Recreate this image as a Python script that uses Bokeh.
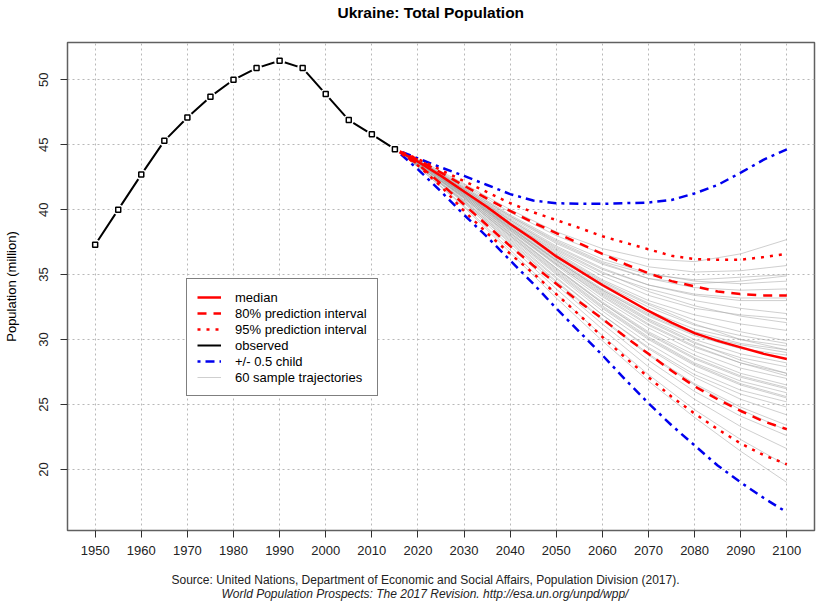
from bokeh.plotting import figure
from bokeh.models import Range1d, Legend, LegendItem, FixedTicker, Title
from bokeh.embed import file_html
from bokeh.resources import INLINE

# ---------------- data ----------------
obs_years = [1950, 1955, 1960, 1965, 1970, 1975, 1980, 1985, 1990, 1995, 2000, 2005, 2010, 2015]
obs_pop = [37.3, 40.0, 42.7, 45.3, 47.1, 48.7, 50.0, 50.9, 51.46, 50.9, 48.9, 46.9, 45.8, 44.66]

proj_years = [2015, 2020, 2025, 2030, 2035, 2040, 2045, 2050, 2055, 2060,
              2065, 2070, 2075, 2080, 2085, 2090, 2095, 2100]
median = [44.66, 43.7, 42.6, 41.4, 40.2, 38.9, 37.7, 36.4, 35.3, 34.2,
          33.2, 32.2, 31.3, 30.5, 29.9, 29.4, 28.9, 28.5]
pi80_low = [44.66, 43.5, 42.0, 40.4, 38.8, 37.2, 35.7, 34.3, 32.9, 31.6,
            30.2, 28.9, 27.6, 26.4, 25.4, 24.5, 23.7, 23.1]
pi80_high = [44.66, 43.85, 42.85, 41.85, 40.85, 39.9, 39.0, 38.2, 37.4, 36.6,
             35.8, 35.1, 34.5, 34.1, 33.7, 33.5, 33.4, 33.4]
pi95_low = [44.66, 43.4, 41.8, 39.9, 38.2, 36.6, 35.1, 33.5, 31.9, 30.2,
            28.6, 27.1, 25.6, 24.3, 23.1, 22.0, 21.1, 20.4]
pi95_high = [44.66, 43.9, 43.05, 42.2, 41.35, 40.5, 39.8, 39.2, 38.6, 37.95,
             37.45, 36.95, 36.45, 36.2, 36.15, 36.15, 36.35, 36.6]
child_low = [44.66, 43.1, 41.4, 39.6, 37.9, 36.1, 34.3, 32.4, 30.6, 28.8,
             26.9, 25.1, 23.4, 21.85, 20.3, 19.0, 17.8, 16.7]
child_high = [44.66, 43.95, 43.25, 42.6, 41.9, 41.2, 40.7, 40.5, 40.45, 40.45,
              40.5, 40.55, 40.75, 41.25, 41.9, 42.85, 43.85, 44.65]

traj_years = [2015, 2020, 2030, 2040, 2050, 2060, 2070, 2080, 2090, 2100]
trajectories = [
    [44.66, 43.9, 42.0, 40.0, 38.3, 37.0, 36.2, 36.0, 36.6, 37.7],
    [44.66, 43.8, 41.9, 39.8, 38.0, 36.6, 35.6, 35.2, 35.3, 35.7],
    [44.66, 43.8, 41.7, 39.5, 37.6, 36.0, 35.0, 34.6, 34.8, 35.0],
    [44.66, 43.7, 41.6, 39.4, 37.4, 35.8, 34.7, 34.3, 34.5, 34.9],
    [44.66, 43.8, 41.6, 39.2, 37.1, 35.4, 34.2, 33.5, 33.2, 33.2],
    [44.66, 43.7, 41.5, 39.1, 36.9, 35.1, 33.9, 33.0, 32.4, 32.0],
    [44.66, 43.7, 41.5, 39.0, 36.8, 34.9, 33.4, 32.4, 31.9, 31.6],
    [44.66, 43.7, 41.4, 39.0, 36.7, 34.6, 33.0, 31.9, 31.2, 30.7],
    [44.66, 43.7, 41.4, 38.9, 36.6, 34.5, 32.8, 31.5, 30.6, 29.9],
    [44.66, 43.6, 41.3, 38.8, 36.4, 34.3, 32.5, 31.1, 30.3, 29.7],
    [44.66, 43.7, 41.4, 38.8, 36.3, 34.1, 32.2, 30.8, 30.0, 29.5],
    [44.66, 43.6, 41.3, 38.7, 36.2, 33.9, 32.0, 30.6, 29.7, 29.2],
    [44.66, 43.6, 41.2, 38.6, 36.1, 33.8, 31.8, 30.3, 29.3, 28.8],
    [44.66, 43.7, 41.3, 38.7, 36.1, 33.7, 31.6, 30.0, 28.9, 28.2],
    [44.66, 43.6, 41.2, 38.5, 35.9, 33.5, 31.4, 29.7, 28.6, 27.9],
    [44.66, 43.6, 41.1, 38.4, 35.8, 33.3, 31.1, 29.4, 28.2, 27.4],
    [44.66, 43.6, 41.1, 38.4, 35.7, 33.1, 30.9, 29.1, 27.8, 27.0],
    [44.66, 43.5, 41.0, 38.2, 35.5, 32.9, 30.6, 28.8, 27.4, 26.5],
    [44.66, 43.6, 41.1, 38.3, 35.5, 32.8, 30.4, 28.5, 27.1, 26.2],
    [44.66, 43.5, 41.0, 38.1, 35.3, 32.6, 30.2, 28.2, 26.8, 25.9],
    [44.66, 43.5, 40.9, 38.0, 35.1, 32.4, 30.0, 28.0, 26.5, 25.5],
    [44.66, 43.5, 40.9, 37.9, 35.0, 32.2, 29.7, 27.6, 26.1, 25.2],
    [44.66, 43.5, 40.8, 37.8, 34.8, 31.9, 29.3, 27.1, 25.4, 24.2],
    [44.66, 43.4, 40.7, 37.6, 34.5, 31.6, 28.9, 26.6, 24.8, 23.4],
    [44.66, 43.4, 40.6, 37.4, 34.2, 31.2, 28.4, 26.0, 24.1, 22.6],
    [44.66, 43.4, 40.5, 37.2, 33.9, 30.8, 27.9, 25.4, 23.3, 21.6],
    [44.66, 43.3, 40.3, 36.9, 33.5, 30.3, 27.3, 24.6, 22.3, 20.3],
    [44.66, 43.3, 40.2, 36.7, 33.2, 29.9, 26.8, 24.0, 21.4, 19.0],
    [44.66, 43.8, 41.8, 39.6, 37.7, 36.2, 35.1, 34.5, 34.3, 34.5],
    [44.66, 43.7, 41.6, 39.3, 37.2, 35.5, 34.2, 33.4, 33.0, 33.0],
    [44.66, 43.7, 41.5, 39.2, 37.0, 35.2, 33.7, 32.6, 31.8, 31.3],
    [44.66, 43.7, 41.4, 38.9, 36.5, 34.4, 32.7, 31.2, 30.0, 29.2],
    [44.66, 43.6, 41.3, 38.6, 36.0, 33.6, 31.5, 29.8, 28.4, 27.4],
    [44.66, 43.6, 41.2, 38.5, 35.8, 33.4, 31.2, 29.5, 28.2, 27.2],
    [44.66, 43.5, 41.0, 38.2, 35.4, 32.8, 30.5, 28.6, 27.2, 26.3],
    [44.66, 43.5, 40.9, 38.0, 35.2, 32.5, 30.1, 28.1, 26.6, 25.6],
    [44.66, 43.4, 40.7, 37.7, 34.7, 31.9, 29.4, 27.3, 25.8, 24.8],
    [44.66, 43.4, 40.6, 37.5, 34.4, 31.5, 28.8, 26.5, 24.6, 23.0],
    [44.66, 43.8, 41.7, 39.5, 37.5, 35.9, 34.7, 34.0, 33.8, 33.9],
    [44.66, 43.6, 41.2, 38.6, 36.1, 33.8, 31.9, 30.4, 29.6, 29.0],
]

x_ticks = [1950, 1960, 1970, 1980, 1990, 2000, 2010, 2020, 2030, 2040,
           2050, 2060, 2070, 2080, 2090, 2100]
y_ticks = [20, 25, 30, 35, 40, 45, 50]

title_text = "Ukraine: Total Population"
y_label = "Population (million)"
source_1 = "Source: United Nations, Department of Economic and Social Affairs, Population Division (2017)."
source_2 = "World Population Prospects: The 2017 Revision. http://esa.un.org/unpd/wpp/"
legend_labels = ["median", "80% prediction interval", "95% prediction interval",
                 "observed", "+/- 0.5 child", "60 sample trajectories"]

FONT = "Liberation Sans"

# ---------------- figure ----------------
p = figure(width=820, height=608, output_backend="svg", toolbar_location=None,
           x_range=Range1d(1944, 2106), y_range=Range1d(15.3, 52.87),
           min_border_left=67, min_border_right=6, min_border_top=42,
           min_border_bottom=78)
p.background_fill_color = "white"
p.border_fill_color = "white"
p.outline_line_color = "#606060"
p.outline_line_width = 1.5

for ax in (p.xaxis[0], p.yaxis[0]):
    ax.axis_line_color = None
    ax.major_tick_line_color = "#303030"
    ax.major_tick_line_width = 1
    ax.major_tick_out = 7
    ax.major_tick_in = 0
    ax.minor_tick_line_color = None
    ax.major_label_text_font = FONT
    ax.major_label_text_font_size = "13px"
    ax.major_label_text_color = "#222222"

p.xaxis.ticker = FixedTicker(ticks=x_ticks)
p.yaxis.ticker = FixedTicker(ticks=y_ticks)
p.xaxis.major_label_standoff = 8
p.yaxis.major_label_standoff = 12
p.yaxis.major_label_orientation = "vertical"
p.yaxis.axis_label = y_label
p.yaxis.axis_label_text_font = FONT
p.yaxis.axis_label_text_font_size = "13px"
p.yaxis.axis_label_text_font_style = "normal"
p.yaxis.axis_label_text_color = "black"
p.yaxis.axis_label_standoff = 18

for g in (p.xgrid[0], p.ygrid[0]):
    g.grid_line_color = "#b8b8b8"
    g.grid_line_dash = "2 3"
    g.grid_line_width = 1
p.xgrid.ticker = FixedTicker(ticks=x_ticks)
p.ygrid.ticker = FixedTicker(ticks=y_ticks)

# ---- title (spacer next to the frame, then the title) ----
p.add_layout(Title(text=" ", text_font=FONT, text_font_size="12px", standoff=6), "above")
p.add_layout(Title(text=title_text, align="left", offset=270, vertical_align="bottom",
                   standoff=0, text_font=FONT, text_font_size="15.5px",
                   text_font_style="bold", text_color="black"), "above")

# ---- source lines below (spacer after the axis, then two lines) ----
p.add_layout(Title(text=" ", text_font=FONT, text_font_size="2px", standoff=9), "below")
p.add_layout(Title(text=source_1, align="left", offset=104, vertical_align="bottom",
                   standoff=0, text_font=FONT, text_font_size="12px",
                   text_font_style="normal", text_color="#222222"), "below")
p.add_layout(Title(text=source_2, align="left", offset=154, vertical_align="top",
                   standoff=0, text_font=FONT, text_font_size="12px",
                   text_font_style="italic", text_color="#222222"), "below")

# ---------------- glyphs ----------------
r_traj = p.multi_line([traj_years] * len(trajectories), trajectories,
                      line_color="#a8a8a8", line_alpha=0.55, line_width=1)

RED = "#ff0000"
BLUE = "#0000ee"
r_child = p.line(proj_years, child_high, line_color=BLUE, line_width=2.5, line_dash="3 5 9 5")
p.line(proj_years, child_low, line_color=BLUE, line_width=2.5, line_dash="3 5 9 5")
r_95 = p.line(proj_years, pi95_high, line_color=RED, line_width=2.5, line_dash="3 6")
p.line(proj_years, pi95_low, line_color=RED, line_width=2.5, line_dash="3 6")
r_80 = p.line(proj_years, pi80_high, line_color=RED, line_width=2.5, line_dash="9 7")
p.line(proj_years, pi80_low, line_color=RED, line_width=2.5, line_dash="9 7")
r_med = p.line(proj_years, median, line_color=RED, line_width=2.5)

# observed: line with gaps around points (type "b")
r_obs = p.line(obs_years, obs_pop, line_color="black", line_width=2)
p.scatter(obs_years, obs_pop, marker="circle", size=11, fill_color="white",
          line_color=None)
p.scatter(obs_years, obs_pop, marker="square", size=5, fill_color="white",
          line_color="black", line_width=1.5)

# ---------------- legend ----------------
rends = [r_med, r_80, r_95, r_obs, r_child, r_traj]
items = [LegendItem(label=lab, renderers=[r]) for lab, r in zip(legend_labels, rends)]
legend = Legend(items=items, location=(119, 134), label_text_font=FONT,
                label_text_font_size="13px", label_text_color="black",
                label_height=16, glyph_height=16, glyph_width=24, spacing=0,
                padding=10, margin=0, label_standoff=14,
                border_line_color="black", border_line_width=1,
                background_fill_color="white", background_fill_alpha=1)
p.add_layout(legend, "center")

open("out.html", "w").write(file_html(p, INLINE))
